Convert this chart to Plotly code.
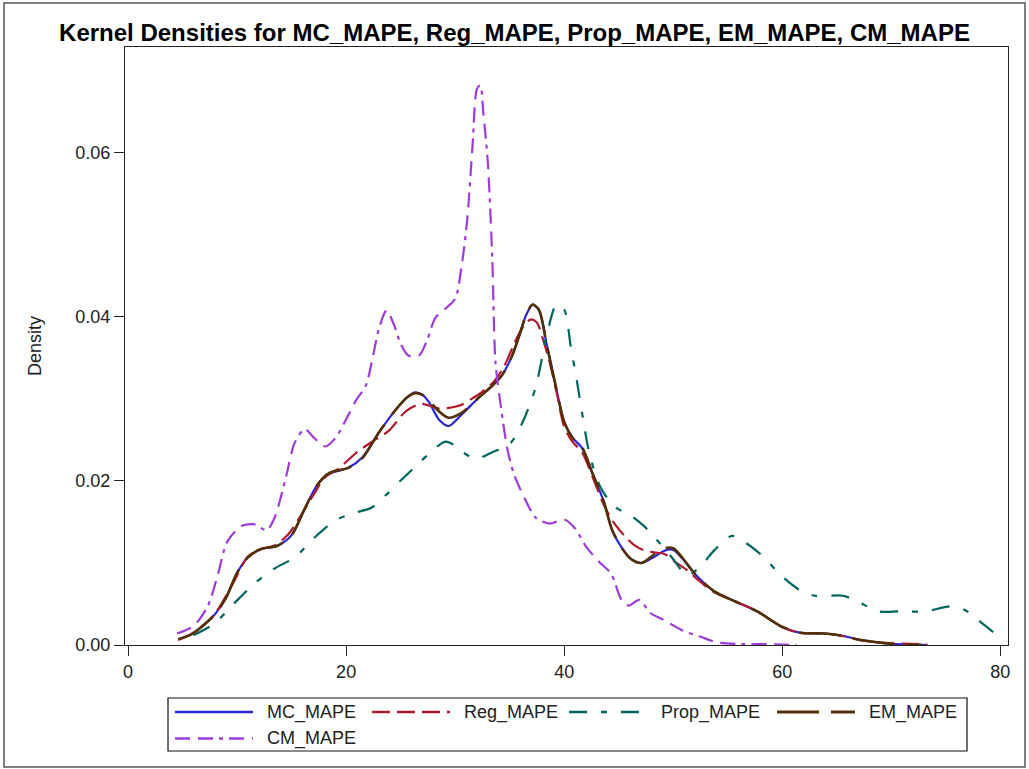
import plotly.graph_objects as go

# ---------------- data ----------------
series_names = ["MC_MAPE", "Reg_MAPE", "Prop_MAPE", "EM_MAPE", "CM_MAPE"]

mc_x = [4.6, 5.8, 7.0, 8.0, 9.0, 10.0, 11.0, 12.2, 13.7, 15.0, 16.2, 17.4, 18.5, 20.2, 21.5,
        23.0, 24.5, 25.6, 26.3, 27.0, 27.6, 28.5, 29.4, 30.6, 32.2, 33.4, 34.3, 35.2, 35.9, 36.5,
        37.1, 37.7, 38.4, 39.3, 40.0, 40.8, 41.6, 42.6, 43.6, 44.4, 45.3, 46.2, 47.1, 48.2, 49.2,
        50.0, 50.8, 52.1, 53.8, 55.7, 57.7, 60.0, 61.6, 63.9, 65.6, 67.2, 68.9, 70.5, 73.3]
mc_y = [0.0007, 0.0013, 0.0025, 0.0038, 0.0058, 0.0088, 0.0107, 0.0117, 0.0121, 0.0134,
        0.0166, 0.0196, 0.0209, 0.0216, 0.0229, 0.0259, 0.0286, 0.0302, 0.0308, 0.0305,
        0.0296, 0.0275, 0.0267, 0.0281, 0.0302, 0.0316, 0.0329, 0.0352, 0.0378, 0.0402,
        0.0415, 0.0408, 0.0366, 0.0311, 0.0272, 0.0252, 0.0241, 0.0209, 0.0176, 0.0140,
        0.0118, 0.0104, 0.0100, 0.0107, 0.0115, 0.0116, 0.0106, 0.0085, 0.0065, 0.0053,
        0.0041, 0.0022, 0.0015, 0.0014, 0.0011, 0.0006, 0.0003, 0.0001, 0.0000]

reg_x = [4.6, 6.0, 7.9, 9.5, 11.0, 12.2, 13.4, 14.7, 15.9, 17.0, 18.1, 19.3, 20.9, 22.4, 23.9,
         25.4, 26.4, 27.0, 27.8, 28.6, 29.4, 30.6, 31.5, 32.5, 33.6, 34.5, 35.3, 36.0, 36.6, 37.0,
         37.5, 38.0, 38.6, 39.3, 40.0, 40.8, 41.6, 42.6, 43.6, 44.5, 45.6, 46.4, 47.2, 48.2, 49.2,
         50.2, 51.2, 52.4, 53.8, 55.7, 57.7, 60.0, 61.6, 63.9, 65.6, 67.2, 68.9, 70.5, 73.3]
reg_y = [0.0006, 0.0015, 0.0037, 0.0072, 0.0108, 0.0117, 0.0121, 0.0135, 0.0159, 0.0183,
         0.0205, 0.0215, 0.0234, 0.0248, 0.0261, 0.0284, 0.0292, 0.0294, 0.0291, 0.0288,
         0.0289, 0.0293, 0.0300, 0.0309, 0.0322, 0.0340, 0.0364, 0.0383, 0.0394, 0.0397,
         0.0393, 0.0375, 0.0348, 0.0308, 0.0266, 0.0247, 0.0236, 0.0205, 0.0172, 0.0150,
         0.0132, 0.0122, 0.0116, 0.0113, 0.0111, 0.0101, 0.0092, 0.0078, 0.0064, 0.0053,
         0.0041, 0.0022, 0.0015, 0.0014, 0.0011, 0.0006, 0.0003, 0.0002, 0.0001]

prop_x = [6.0, 7.9, 9.75, 11.6, 13.4, 15.3, 17.1, 19.0, 20.8, 22.4, 23.9, 25.2, 26.7, 28.0, 29.1,
          30.0, 30.7, 31.9, 33.4, 35.0, 36.2, 37.4, 38.4, 39.3, 40.0, 40.6, 41.15, 41.64, 42.3, 43.3,
          44.6, 46.2, 47.4, 48.5, 49.8, 51.3, 52.5, 53.8, 55.4, 56.7, 58.4, 59.7, 61.6, 63.0, 65.6,
          66.9, 68.85, 70.8, 73.1, 75.4, 76.7, 78.0, 79.7]
prop_y = [0.0012, 0.0026, 0.0051, 0.0075, 0.0093, 0.0107, 0.0131, 0.0152, 0.0161, 0.0168,
          0.0186, 0.0203, 0.0222, 0.0238, 0.0248, 0.0243, 0.0235, 0.0227, 0.0235, 0.0245,
          0.0272, 0.0315, 0.0378, 0.0415, 0.0409, 0.0364, 0.0323, 0.0283, 0.0234, 0.0193,
          0.0169, 0.0157, 0.0144, 0.0128, 0.0108, 0.0085, 0.0096, 0.0116, 0.0133, 0.0124,
          0.0106, 0.0087, 0.0067, 0.0060, 0.0060, 0.0053, 0.0041, 0.0041, 0.0041, 0.0047,
          0.0043, 0.0030, 0.0012]

em_x = [4.6, 5.8, 7.0, 8.0, 9.0, 10.0, 11.0, 12.2, 13.7, 15.0, 16.2, 17.4, 18.5, 20.2, 21.5,
        23.0, 24.5, 25.6, 26.3, 27.0, 27.6, 28.5, 29.4, 30.6, 32.2, 33.4, 34.3, 35.2, 35.9, 36.5,
        37.1, 37.7, 38.4, 39.3, 40.0, 40.8, 41.6, 42.6, 43.6, 44.4, 45.3, 46.2, 47.1, 48.2, 49.2,
        50.0, 50.8, 52.1, 53.8, 55.7, 57.7, 60.0, 61.6, 63.9, 65.6, 67.2, 68.9, 70.5, 72.8]
em_y = [0.0007, 0.0013, 0.0025, 0.0038, 0.0058, 0.0088, 0.0107, 0.0117, 0.0121, 0.0134,
        0.0166, 0.0196, 0.0210, 0.0216, 0.0228, 0.0259, 0.0286, 0.0302, 0.0307, 0.0305,
        0.0298, 0.0285, 0.0277, 0.0283, 0.0302, 0.0316, 0.0329, 0.0352, 0.0378, 0.0402,
        0.0415, 0.0408, 0.0366, 0.0311, 0.0272, 0.0252, 0.0242, 0.0209, 0.0176, 0.0140,
        0.0118, 0.0104, 0.0100, 0.0110, 0.0118, 0.0118, 0.0107, 0.0085, 0.0065, 0.0053,
        0.0041, 0.0022, 0.0015, 0.0014, 0.0011, 0.0006, 0.0003, 0.0001, 0.0000]

cm_x = [4.5, 6.0, 7.3, 8.2, 9.1, 10.4, 11.6, 12.7, 13.4, 14.4, 15.3, 16.2, 17.1, 18.1, 19.0,
        19.8, 20.9, 21.8, 22.4, 23.0, 23.7, 24.4, 25.0, 25.7, 26.7, 27.4, 28.2, 29.1, 30.0, 30.6,
        31.1, 31.6, 32.0, 32.3, 32.6, 33.0, 33.4, 33.7, 34.2, 34.8, 35.4, 36.4, 37.4, 38.7, 40.0,
        41.0, 42.0, 43.3, 44.3, 45.25, 45.9, 46.9, 47.9, 49.2, 50.8, 52.5, 54.1, 56.4, 59.0, 61.3]
cm_y = [0.0014, 0.0023, 0.0047, 0.0084, 0.0126, 0.0145, 0.0147, 0.0140, 0.0154, 0.0200,
        0.0247, 0.0263, 0.0252, 0.0242, 0.0252, 0.0270, 0.0298, 0.0316, 0.0348, 0.0385,
        0.0408, 0.0390, 0.0367, 0.0353, 0.0353, 0.0371, 0.0399, 0.0410, 0.0422, 0.0463,
        0.0518, 0.0610, 0.0678, 0.0682, 0.0646, 0.0587, 0.0472, 0.0344, 0.0290, 0.0238,
        0.0208, 0.0178, 0.0155, 0.0148, 0.0153, 0.0142, 0.0120, 0.0100, 0.0087, 0.0055,
        0.0048, 0.0055, 0.0039, 0.0030, 0.0018, 0.0010, 0.0003, 0.0001, 0.0001, 0.0000]

x_ticks = [0, 20, 40, 60, 80]
y_ticks = [0.00, 0.02, 0.04, 0.06]
y_tick_labels = ["0.00", "0.02", "0.04", "0.06"]

# ---------------- styles ----------------
colors = ["#2A25D9", "#B2182B", "#01665E", "#543005", "#9D3CDB"]
dashes = ["solid", "18px,7px", "18px,14px,6px,14px", "42px,12px", "15px,8px,15px,6px,4px,6px"]
widths = [2.2, 2.2, 2.2, 2.6, 2.2]
xs = [mc_x, reg_x, prop_x, em_x, cm_x]
ys = [mc_y, reg_y, prop_y, em_y, cm_y]

FONT = "Arial, 'Liberation Sans', sans-serif"
W, H = 1029, 769
L, R, T, B = 125, 1008, 47, 645


def pxx(x):
    return (x - L) / (R - L)


def pxy(y):
    return (B - y) / (B - T)


fig = go.Figure()
for name, x, y, c, d, w in zip(series_names, xs, ys, colors, dashes, widths):
    fig.add_trace(go.Scatter(x=x, y=y, mode="lines", name=name,
                             line=dict(color=c, width=w, dash=d, shape="spline", smoothing=0.8),
                             showlegend=False))

shapes = []
annotations = []
# outer graph border
shapes.append(dict(type="rect", xref="paper", yref="paper",
                   x0=pxx(4), x1=pxx(1025), y0=pxy(767), y1=pxy(3),
                   line=dict(color="#555555", width=1.5), fillcolor="rgba(0,0,0,0)", layer="above"))
# legend box
shapes.append(dict(type="rect", xref="paper", yref="paper",
                   x0=pxx(168), x1=pxx(967), y0=pxy(751), y1=pxy(698),
                   line=dict(color="#111111", width=1.2), fillcolor="rgba(0,0,0,0)", layer="above"))
legend_text_x = [265, 462, 659, 867, 265]
legend_row_y = [712, 712, 712, 712, 738.5]
for name, c, d, w, tx, ry in zip(series_names, colors, dashes, widths, legend_text_x, legend_row_y):
    shapes.append(dict(type="line", xref="paper", yref="paper",
                       x0=pxx(tx - 90), x1=pxx(tx - 12), y0=pxy(ry), y1=pxy(ry),
                       line=dict(color=c, width=w + 0.2, dash=d), layer="above"))
    annotations.append(dict(text=name, xref="paper", yref="paper", x=pxx(tx), y=pxy(ry),
                            xanchor="left", yanchor="middle", showarrow=False,
                            font=dict(family=FONT, size=18, color="#222222")))
# y axis title
annotations.append(dict(text="Density", xref="paper", yref="paper", x=pxx(35), y=pxy(346),
                        xanchor="center", yanchor="middle", textangle=-90, showarrow=False,
                        font=dict(family=FONT, size=18, color="#222222")))

fig.update_layout(
    width=W, height=H,
    margin=dict(l=L, r=W - R, t=T, b=H - B, pad=0),
    paper_bgcolor="white", plot_bgcolor="white",
    title=dict(text="<b>Kernel Densities for MC_MAPE, Reg_MAPE, Prop_MAPE, EM_MAPE, CM_MAPE</b>",
               x=0.5, xref="container", xanchor="center",
               y=1 - 33 / H, yref="container", yanchor="middle",
               font=dict(family=FONT, size=24, color="#000000")),
    showlegend=False,
    shapes=shapes,
    annotations=annotations,
    xaxis=dict(range=[-0.28, 80.7], tickvals=x_ticks, ticks="outside", ticklen=10,
               tickcolor="#222222", tickwidth=1.2, showline=True, mirror=True,
               linecolor="#222222", linewidth=1.2, showgrid=False, zeroline=False,
               tickfont=dict(family=FONT, size=18, color="#222222")),
    yaxis=dict(range=[0, 0.0729], tickvals=y_ticks, ticktext=y_tick_labels, ticks="outside",
               ticklen=10, tickcolor="#222222", tickwidth=1.2, showline=True, mirror=True,
               linecolor="#222222", linewidth=1.2, showgrid=False, zeroline=False,
               tickfont=dict(family=FONT, size=18, color="#222222")),
)

fig.write_html("out.html")
